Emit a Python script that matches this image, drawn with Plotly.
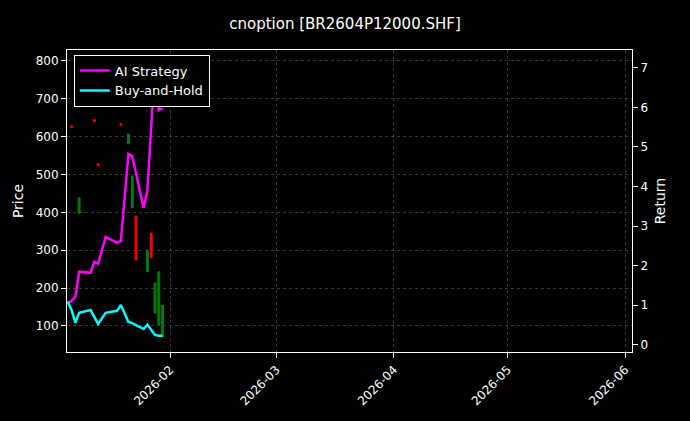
import plotly.graph_objects as go

line_dates = ["2026-01-05","2026-01-06","2026-01-07","2026-01-08","2026-01-11","2026-01-12","2026-01-13","2026-01-15","2026-01-18","2026-01-19","2026-01-21","2026-01-22","2026-01-25","2026-01-26","2026-01-28","2026-01-29","2026-01-30"]
ai_ret = [1.06,1.11,1.21,1.85,1.82,2.10,2.05,2.73,2.58,2.62,4.82,4.77,3.46,3.91,7.07,5.93,5.98]
bh_ret = [1.09,0.88,0.56,0.81,0.88,0.70,0.53,0.81,0.86,1.01,0.58,0.55,0.40,0.51,0.25,0.23,0.23]

c_dates = ["2026-01-06","2026-01-08","2026-01-12","2026-01-13","2026-01-19","2026-01-21","2026-01-22","2026-01-23","2026-01-26","2026-01-27","2026-01-28","2026-01-29","2026-01-30"]
c_open  = [628,398,645,528,634,581,412,390,243,345,134,103,71]
c_close = [624,438,640,524,630,607,496,274,300,280,213,243,155]
c_high  = [630,440,647,530,636,607,496,390,300,345,213,243,155]
c_low   = [622,396,638,522,628,581,412,274,243,280,134,103,71]

fig = go.Figure()
fig.add_trace(go.Candlestick(x=c_dates, open=c_open, high=c_high, low=c_low, close=c_close,
    increasing=dict(line=dict(color="#008000", width=1), fillcolor="#008000"),
    decreasing=dict(line=dict(color="#ff0000", width=1), fillcolor="#ff0000"),
    whiskerwidth=0, showlegend=False, yaxis="y"))
fig.add_trace(go.Scatter(x=line_dates, y=ai_ret, mode="lines", name="AI Strategy",
    line=dict(color="#ff00ff", width=2.5), yaxis="y2"))
fig.add_trace(go.Scatter(x=line_dates, y=bh_ret, mode="lines", name="Buy-and-Hold",
    line=dict(color="#00ffff", width=2.5), yaxis="y2"))

grid = dict(showgrid=True, gridcolor="rgba(100,100,100,0.55)", griddash="dot", gridwidth=0.6, zeroline=False, automargin=False)
fig.update_layout(
    width=690, height=421, paper_bgcolor="black", plot_bgcolor="black",
    font=dict(family="DejaVu Sans", color="white", size=12),
    margin=dict(l=67, r=58, t=50, b=69),
    title=dict(text="cnoption [BR2604P12000.SHF]", x=0.5, y=0.955, xanchor="center", font=dict(size=15)),
    xaxis=dict(type="date", range=["2026-01-04 19:00","2026-06-02 19:00"], tickformat="%Y-%m",
               dtick="M1", tickangle=-45, rangeslider=dict(visible=False), showline=True,
               linecolor="white", mirror=True, ticks="outside", tickcolor="white", **grid),
    yaxis=dict(title=dict(text="Price", standoff=8), range=[31, 829], dtick=100, showline=True, linecolor="white",
               ticks="outside", tickcolor="white", **grid),
    yaxis2=dict(title=dict(text="Return", standoff=8), overlaying="y", side="right", range=[-0.18, 7.45], dtick=1,
                showgrid=False, zeroline=False, automargin=False, showline=True, linecolor="white",
                ticks="outside", tickcolor="white"),
    legend=dict(x=0.012, y=0.985, xanchor="left", yanchor="top", bgcolor="black",
                bordercolor="white", borderwidth=1, font=dict(size=13)),
)
fig.write_html("out.html", config={"displayModeBar": False},
               post_script="document.body.style.margin='0';document.body.style.background='black';")
